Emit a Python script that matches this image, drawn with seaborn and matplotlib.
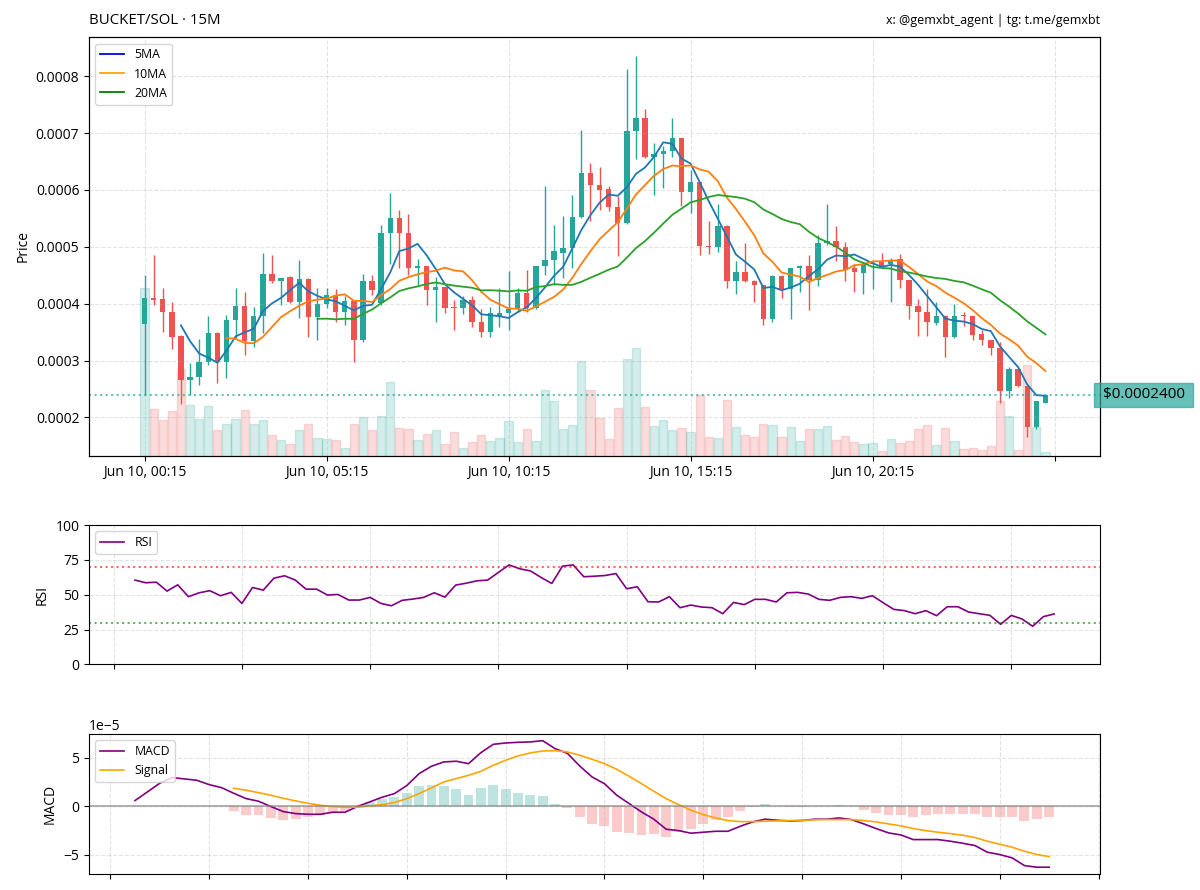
import numpy as np
import pandas as pd
import matplotlib
matplotlib.use("Agg")
import matplotlib.pyplot as plt
import matplotlib.dates as mdates
from matplotlib.lines import Line2D
from matplotlib.ticker import NullFormatter
from matplotlib.transforms import blended_transform_factory
import seaborn as sns

plt.rcParams['font.family'] = ['Open Sans', 'DejaVu Sans']

# ---------------- data ----------------
PAIR_TITLE = "BUCKET/SOL · 15M"
CREDIT = "x: @gemxbt_agent | tg: t.me/gemxbt"
START = "2025-06-10 00:15"

# OHLC in units of 1e-4 SOL
opens = np.array([
    3.645, 4.103, 4.079, 3.862, 3.434, 2.660, 2.707, 2.965, 3.481, 2.982,
    3.704, 3.962, 3.346, 3.786, 4.525, 4.402, 4.466, 4.026, 4.431, 3.774,
    4.000, 4.155, 3.845, 4.044, 3.364, 4.402, 4.012, 5.240, 5.504, 5.240,
    4.619, 4.654, 4.232, 4.290, 3.933, 3.915, 4.067, 3.669, 3.499, 3.786,
    3.833, 3.921, 4.185, 3.921, 4.654, 4.771, 4.900, 4.977, 5.522, 6.296,
    6.091, 6.015, 5.698, 5.416, 7.041, 7.258, 6.572, 6.636, 6.689, 6.906,
    5.962, 6.132, 5.023, 4.994, 5.358, 4.390, 4.554, 4.402, 4.320, 3.727,
    4.490, 4.255, 4.619, 4.654, 4.408, 5.076, 5.106, 4.994, 4.619, 4.548,
    4.695, 4.742, 4.701, 4.783, 4.419, 3.962, 3.862, 3.657, 3.786, 3.405,
    3.804, 3.786, 3.463, 3.352, 3.217, 2.455, 2.848, 2.554, 1.827, 2.261]) * 1e-4
highs = np.array([
    4.500, 4.859, 4.273, 4.026, 3.450, 2.953, 3.375, 3.786, 3.504, 3.804,
    4.273, 4.202, 3.933, 4.900, 4.859, 4.460, 4.490, 4.771, 4.449, 4.273,
    4.284, 4.261, 4.138, 4.050, 4.525, 4.507, 5.387, 5.944, 5.651, 5.581,
    4.789, 4.660, 4.466, 4.290, 4.067, 4.138, 4.138, 3.903, 3.950, 4.273,
    4.566, 4.273, 4.584, 4.660, 6.073, 5.387, 5.545, 5.915, 7.059, 6.472,
    6.402, 6.062, 5.886, 8.132, 8.349, 7.428, 6.824, 6.777, 7.264, 6.910,
    6.355, 6.140, 5.446, 5.751, 5.387, 4.742, 5.065, 4.410, 4.330, 4.507,
    4.500, 4.630, 4.683, 4.859, 5.211, 5.751, 5.370, 5.082, 4.701, 4.700,
    4.742, 4.889, 4.801, 4.877, 4.420, 4.079, 4.255, 4.038, 3.804, 3.991,
    3.850, 3.790, 3.540, 3.360, 3.334, 2.877, 2.850, 2.560, 2.280, 2.400]) * 1e-4
lows = np.array([
    2.400, 3.979, 3.493, 3.199, 2.232, 2.396, 2.572, 2.924, 2.613, 2.689,
    3.375, 3.100, 3.235, 3.481, 4.361, 3.979, 4.009, 3.745, 3.411, 3.364,
    3.921, 3.669, 3.616, 2.965, 3.334, 4.155, 3.980, 4.701, 4.625, 4.507,
    4.331, 3.968, 3.686, 3.833, 3.540, 3.821, 3.587, 3.411, 3.422, 3.598,
    3.540, 3.862, 3.862, 3.903, 4.507, 4.331, 4.449, 4.625, 5.500, 5.446,
    5.651, 5.622, 4.830, 5.405, 6.543, 6.560, 5.909, 6.032, 6.589, 5.710,
    5.592, 4.859, 4.877, 4.912, 4.273, 4.173, 4.380, 4.038, 3.616, 3.686,
    4.097, 3.727, 4.214, 3.891, 4.314, 5.035, 4.754, 4.390, 4.214, 4.167,
    4.255, 4.654, 4.026, 4.273, 3.727, 3.434, 3.434, 3.616, 3.070, 3.400,
    3.610, 3.364, 3.276, 3.100, 2.261, 2.337, 2.531, 1.663, 1.792, 2.260]) * 1e-4
closes = np.array([
    4.097, 4.067, 3.845, 3.422, 2.660, 2.707, 2.982, 3.481, 2.977, 3.716,
    3.962, 3.346, 3.786, 4.525, 4.402, 4.455, 4.026, 4.431, 3.774, 4.000,
    4.155, 3.845, 4.044, 3.364, 4.402, 4.243, 5.240, 5.504, 5.240, 4.625,
    4.654, 4.232, 4.290, 3.915, 3.915, 4.067, 3.669, 3.499, 3.833, 3.833,
    3.903, 4.185, 3.921, 4.654, 4.771, 4.918, 4.977, 5.522, 6.296, 6.079,
    6.003, 5.698, 5.416, 7.041, 7.258, 6.572, 6.636, 6.689, 6.906, 5.962,
    6.132, 5.018, 4.994, 5.358, 4.390, 4.554, 4.390, 4.320, 3.727, 4.490,
    4.255, 4.625, 4.654, 4.408, 5.076, 5.106, 4.994, 4.595, 4.554, 4.695,
    4.724, 4.666, 4.771, 4.408, 3.962, 3.862, 3.669, 3.786, 3.405, 3.786,
    3.780, 3.452, 3.352, 3.217, 2.455, 2.848, 2.543, 1.827, 2.279, 2.400]) * 1e-4
volumes = np.array([
    500, 140, 105, 132, 260, 150, 108, 147, 75, 95,
    110, 137, 93, 105, 62, 47, 35, 77, 95, 53,
    48, 45, 23, 95, 115, 77, 117, 220, 83, 80,
    47, 63, 75, 35, 70, 22, 40, 60, 42, 52,
    102, 40, 78, 42, 197, 162, 78, 90, 283, 195,
    113, 50, 143, 290, 320, 145, 87, 105, 75, 82,
    70, 182, 55, 53, 165, 85, 60, 55, 95, 90,
    55, 84, 42, 80, 80, 88, 47, 58, 40, 35,
    37, 13, 50, 38, 42, 80, 90, 32, 82, 43,
    20, 23, 15, 29, 162, 118, 17, 272, 85, 10], dtype=float)

# RSI (14), first value on candle 13
rsi_values = np.array([
    60.5, 58.6, 59.0, 52.6, 57.1, 48.6, 51.4, 52.9, 49.3, 51.7,
    43.8, 55.2, 53.3, 61.9, 63.6, 60.5, 54.0, 54.0, 49.8, 50.2,
    46.2, 46.2, 48.1, 43.8, 42.1, 46.0, 46.9, 48.1, 51.4, 48.3,
    56.9, 58.3, 60.0, 60.5, 66.0, 71.4, 68.6, 67.1, 62.4, 58.1,
    70.5, 71.4, 62.9, 63.3, 63.8, 65.2, 54.3, 55.7, 45.0, 44.8,
    48.6, 40.7, 42.6, 41.2, 40.7, 36.4, 44.5, 42.9, 46.7, 46.7,
    44.8, 51.4, 51.7, 50.5, 46.7, 46.0, 48.1, 48.6, 47.4, 49.3,
    44.3, 39.5, 38.6, 36.4, 38.6, 35.0, 41.4, 41.4, 37.6, 36.4,
    35.2, 28.8, 35.2, 32.6, 27.4, 34.3, 36.2])
RSI_START = 13

# MACD line (first value on candle 25) and signal (first value on candle 33)
macd_values = np.array([
    0.59, 1.48, 2.38, 2.97, 2.83, 2.69, 2.24, 1.93, 1.34, 0.79,
    0.52, -0.03, -0.55, -0.76, -0.83, -0.83, -0.62, -0.62, -0.03, 0.45,
    0.93, 1.31, 2.14, 3.38, 4.14, 4.59, 4.66, 4.41, 5.55, 6.41,
    6.55, 6.62, 6.66, 6.79, 5.97, 5.48, 4.17, 3.03, 2.34, 1.14,
    0.28, -0.59, -1.34, -2.38, -2.52, -2.79, -2.69, -2.59, -2.59, -2.07,
    -1.62, -1.34, -1.45, -1.52, -1.48, -1.34, -1.34, -1.21, -1.38, -1.83,
    -2.31, -2.76, -2.97, -3.45, -3.45, -3.45, -3.62, -3.83, -4.07, -4.76,
    -5.00, -5.34, -6.14, -6.31, -6.31]) * 1e-5
signal_values = np.array([
    1.86, 1.66, 1.41, 1.14, 0.83, 0.55, 0.31, 0.10, -0.03, -0.10,
    -0.10, 0.03, 0.17, 0.38, 0.79, 1.31, 1.90, 2.52, 2.86, 3.21,
    3.62, 4.24, 4.76, 5.21, 5.52, 5.72, 5.76, 5.62, 5.28, 4.86,
    4.41, 3.83, 3.10, 2.34, 1.55, 0.79, 0.17, -0.41, -0.86, -1.21,
    -1.48, -1.59, -1.59, -1.55, -1.52, -1.48, -1.45, -1.41, -1.38, -1.38,
    -1.38, -1.48, -1.62, -1.83, -2.03, -2.31, -2.52, -2.69, -2.83, -3.00,
    -3.24, -3.62, -3.93, -4.24, -4.66, -5.00, -5.21]) * 1e-5
MACD_START = 25
SIGNAL_START = 33

# ---------------- derived ----------------
n = len(closes)
idx = np.arange(n)
times = pd.date_range(START, periods=n, freq="15min")
close_s = pd.Series(closes)
ma5 = close_s.rolling(5).mean().values
ma10 = close_s.rolling(10).mean().values
ma20 = close_s.rolling(20).mean().values
hist = macd_values[SIGNAL_START - MACD_START:] - signal_values

TEAL = "#26a69a"
RED = "#ef5350"
up = closes >= opens
ccol = np.where(up, TEAL, RED)
LEG_FS = 8.8

# ---------------- figure ----------------
fig = plt.figure(figsize=(12, 8.9), dpi=100)
L, W = 0.0742, 0.8425
ax = fig.add_axes([L, 0.4882, W, 0.4697])
ax_rsi = fig.add_axes([L, 0.2534, W, 0.1567])
ax_macd = fig.add_axes([L, 0.0185, W, 0.1564])

grid_kw = dict(linestyle="--", alpha=0.35)

# volume on twin axis
ax_vol = ax.twinx()
ax_vol.bar(idx, volumes, width=0.9, color=ccol, alpha=0.2, edgecolor=ccol, linewidth=1)
ax_vol.set_ylim(0, volumes.max() * 2.5)
ax_vol.set_yticks([])
ax.set_zorder(ax_vol.get_zorder() + 1)
ax.patch.set_visible(False)

# candles
ax.vlines(idx, lows, highs, colors=ccol, linewidth=1)
ax.bar(idx, np.abs(closes - opens), bottom=np.minimum(opens, closes), width=0.6,
       color=ccol, linewidth=0)

# moving averages
sns.lineplot(x=idx, y=ma5, ax=ax, color="#1f77b4", linewidth=1.3)
sns.lineplot(x=idx, y=ma10, ax=ax, color="#ff7f0e", linewidth=1.3)
sns.lineplot(x=idx, y=ma20, ax=ax, color="#2ca02c", linewidth=1.3)

span = highs.max() - lows.min()
ax.set_ylim(lows.min() - 0.05 * span, highs.max() + 0.05 * span)
ax.set_xlim(-6.1, 105)
tick_pos = list(range(0, 101, 20))
ax.set_xticks(tick_pos)
ax.set_xticklabels([times[i].strftime("%b %d, %H:%M") if i < n else "" for i in tick_pos])
ax.set_ylabel("Price")
ax.grid(True, **grid_kw)

last = closes[-1]
ax.axhline(last, color=TEAL, linestyle=":", linewidth=1.5, alpha=0.7)
ax.text(0.9985, last, f" ${last:.7f} ", transform=blended_transform_factory(ax.transAxes, ax.transData),
        ha="left", va="center", fontsize=11, color="black",
        bbox=dict(boxstyle="square,pad=0.3", facecolor=TEAL, alpha=0.7, edgecolor=TEAL))

handles = [Line2D([0], [0], color="blue", lw=1.3, label="5MA"),
           Line2D([0], [0], color="orange", lw=1.3, label="10MA"),
           Line2D([0], [0], color="green", lw=1.3, label="20MA")]
ax.legend(handles=handles, loc="upper left", fontsize=LEG_FS)
ax.set_title(PAIR_TITLE, loc="left", fontsize=10.8, pad=10)
ax.set_title(CREDIT, loc="right", fontsize=9, pad=10)

# RSI
rsi_times = times[RSI_START:]
sns.lineplot(x=rsi_times, y=rsi_values, ax=ax_rsi, color="purple", linewidth=1.2, label="RSI")
ax_rsi.axhline(70, color="red", linestyle=":", linewidth=1.5, alpha=0.6)
ax_rsi.axhline(30, color="green", linestyle=":", linewidth=1.5, alpha=0.6)
ax_rsi.set_ylim(0, 100)
ax_rsi.set_yticks([0, 25, 50, 75, 100])
ax_rsi.set_ylabel("RSI")
ax_rsi.set_xlabel("")
ax_rsi.xaxis.set_major_locator(mdates.HourLocator(byhour=range(0, 24, 3)))
ax_rsi.xaxis.set_major_formatter(NullFormatter())
ax_rsi.grid(True, **grid_kw)
ax_rsi.legend(loc="upper left", fontsize=LEG_FS)

# MACD
macd_times = times[MACD_START:]
sig_times = times[SIGNAL_START:]
ax_macd.bar(sig_times, hist, width=0.8 * 15 / 1440, color=np.where(hist >= 0, TEAL, RED), alpha=0.3)
sns.lineplot(x=macd_times, y=macd_values, ax=ax_macd, color="purple", linewidth=1.2, label="MACD")
sns.lineplot(x=sig_times, y=signal_values, ax=ax_macd, color="orange", linewidth=1.2, label="Signal")
ax_macd.axhline(0, color="gray", linewidth=1.5, alpha=0.6)
ax_macd.set_ylabel("MACD")
ax_macd.set_xlabel("")
ax_macd.xaxis.set_major_locator(mdates.HourLocator(byhour=range(0, 24, 2)))
ax_macd.xaxis.set_major_formatter(NullFormatter())
ax_macd.grid(True, **grid_kw)
ax_macd.legend(loc="upper left", fontsize=LEG_FS)

fig.savefig("out.png", dpi=100)
